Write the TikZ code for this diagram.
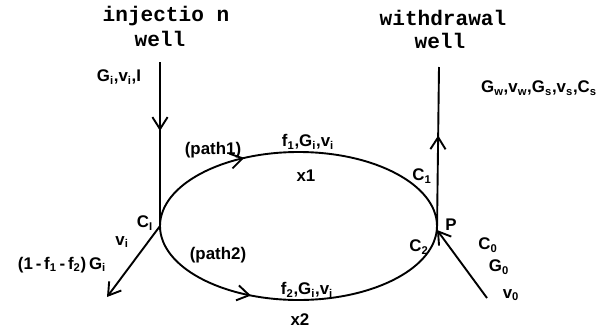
\documentclass[tikz,border=0pt]{standalone}
\usepackage{fontspec}
\setsansfont{Liberation Sans}
\newfontfamily\wellfont{Liberation Mono}
\usetikzlibrary{positioning, arrows.meta, decorations.markings}
\definecolor{flowk}{RGB}{0,0,0}
\tikzset{
  lbl/.style     = {font=\sffamily\bfseries\fontsize{12}{13}\selectfont, inner sep=0pt},
  wellname/.style = {font=\wellfont\bfseries\fontsize{15}{16}\selectfont, inner sep=0pt},
  flowline/.style = {line width=1.35pt, flowk},
  barb/.style    = {-{Straight Barb[length=3mm, width=3.8mm]}},
  midarr/.style  = {postaction={decorate},
                    decoration={markings, mark=at position #1 with
                      {\arrow{Straight Barb[length=3mm, width=3.8mm]}}}},
}
\newcommand{\sub}[1]{\textsubscript{#1}}

\begin{document}
\begin{tikzpicture}[x=0.025cm, y=-0.025cm]
        \useasboundingbox (0,0) rectangle (613,330);
        % junctions and free ends
        \coordinate (ci) at (160,226);
        \coordinate (p) at (437,230);
        \coordinate (injtop) at (160,62);
        \coordinate (wdtop) at (439,67);
        \coordinate (divend) at (107,297);
        \coordinate (inbeg) at (487,298);
        % the two paths
        \draw[flowline, midarr=0.34] (ci) arc[start angle=180, end angle=360,
              x radius=138.5, y radius=74] coordinate (p1end);
        \draw[flowline, midarr=0.36] (ci) arc[start angle=180, end angle=0,
              x radius=138.5, y radius=74] coordinate (p2end);
        % wells
        \draw[flowline, midarr=0.42] (injtop) -- (ci);
        \draw[flowline, midarr=0.58] (p) -- (wdtop);
        \draw[flowline, barb] (ci) -- (divend);
        \draw[flowline, barb] (inbeg) -- (p);
        % texts
        \node[wellname] (injname) at (166,16) {injectio n};
        \node[wellname] (injwell) at (160,39) {well};
        \node[wellname] (wdname) at (443,18) {withdrawal};
        \node[wellname] (wdwell) at (440,41) {well};
        \node[lbl] (inj) at (119,77) {G\sub{i},v\sub{i},I};
        \node[lbl] (wd) at (539,88) {G\sub{w},v\sub{w},G\sub{s},v\sub{s},C\sub{s}};
        \node[lbl] (path1) at (213,150) {(path1)};
        \node[lbl] (f1) at (308,142) {f\sub{1},G\sub{i},v\sub{i}};
        \node[lbl] (x1) at (306,176) {x1};
        \node[lbl] (c1) at (422,176) {C\sub{1}};
        \node[lbl] (cilbl) at (145,223) {C\sub{I}};
        \node[lbl] (vi) at (122,242) {v\sub{i}};
        \node[lbl] (div) at (62,265) {(1\,-\,f\sub{1}\,-\,f\sub{2})\,G\sub{i}};
        \node[lbl] (path2) at (218,255) {(path2)};
        \node[lbl] (f2) at (307,290) {f\sub{2},G\sub{i},v\sub{i}};
        \node[lbl] (x2) at (300,320) {x2};
        \node[lbl] (plbl) at (451,225) {P};
        \node[lbl] (c2) at (419,247) {C\sub{2}};
        \node[lbl] (c0) at (488,245) {C\sub{0}};
        \node[lbl] (g0) at (499,267) {G\sub{0}};
        \node[lbl] (v0) at (511,295) {v\sub{0}};
      \end{tikzpicture}
\end{document}
